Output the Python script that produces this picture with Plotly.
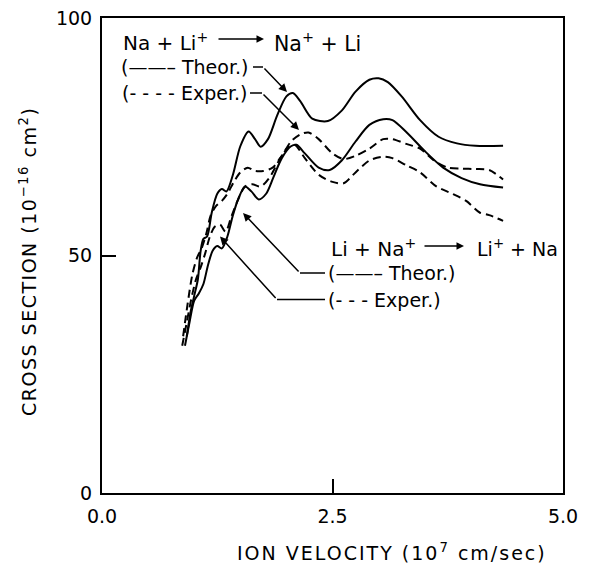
import plotly.graph_objects as go

# Na + Li+ -> Na+ + Li, theory (solid)
v_na_theor = [0.92, 0.96, 1.0, 1.04, 1.07, 1.10, 1.14, 1.19, 1.25, 1.30, 1.35, 1.42, 1.50, 1.59, 1.66, 1.72, 1.80, 1.90, 2.0, 2.07, 2.15, 2.28, 2.45, 2.6, 2.75, 2.9, 3.0, 3.1, 3.25, 3.45, 3.65, 3.85, 4.05, 4.35]
c_na_theor = [33, 38, 41.5, 45, 51, 53.5, 54, 59, 63, 64, 63.5, 67, 73, 76.1, 74.5, 72.9, 74.5, 79.5, 83.5, 84.2, 82.5, 78.8, 78.3, 80.5, 84.5, 87, 87.3, 86.5, 83.5, 78.5, 75, 73.6, 73.1, 73.1]

# Na + Li+ -> Na+ + Li, experiment (dashed)
v_na_exper = [0.88, 0.93, 0.98, 1.03, 1.08, 1.13, 1.18, 1.24, 1.30, 1.36, 1.43, 1.50, 1.58, 1.66, 1.75, 1.85, 1.95, 2.05, 2.15, 2.24, 2.35, 2.5, 2.62, 2.75, 2.9, 3.05, 3.15, 3.3, 3.45, 3.6, 3.75, 3.9, 4.05, 4.2, 4.35]
c_na_exper = [33, 40, 46, 49.5, 51.5, 54.5, 58.5, 60.5, 61.5, 63, 65.5, 67.5, 68.5, 67.8, 67.8, 68.5, 71, 74, 75.5, 75.9, 74.5, 71.5, 70.3, 71, 72.5, 74.5, 74.5, 73.5, 72.5, 70, 68.5, 68.3, 68.2, 68, 66]

# Li + Na+ -> Li+ + Na, theory (solid)
v_li_theor = [0.9, 0.95, 1.0, 1.05, 1.1, 1.15, 1.2, 1.25, 1.3, 1.36, 1.42, 1.48, 1.55, 1.62, 1.7, 1.78, 1.86, 1.95, 2.05, 2.11, 2.2, 2.35, 2.47, 2.6, 2.75, 2.9, 3.05, 3.15, 3.3, 3.5, 3.7, 3.9, 4.1, 4.35]
c_li_theor = [31, 36, 40.5, 42, 44, 48, 51, 52, 51.5, 54, 58.5, 62, 64.5, 63.5, 61.8, 63, 66.5, 70.5, 73, 73.3, 71.5, 68.5, 68, 70, 74, 77.5, 78.7, 78.5, 76, 72, 68.5, 66.3, 65, 64.3]

# Li + Na+ -> Li+ + Na, experiment (dashed)
v_li_exper = [0.87, 0.92, 0.97, 1.02, 1.07, 1.12, 1.17, 1.22, 1.28, 1.34, 1.40, 1.47, 1.55, 1.63, 1.72, 1.82, 1.92, 2.02, 2.09, 2.2, 2.35, 2.5, 2.62, 2.75, 2.9, 3.05, 3.15, 3.3, 3.45, 3.63, 3.8, 3.95, 4.1, 4.2, 4.35]
c_li_exper = [31, 36, 41, 45, 47.5, 50.5, 54, 56, 56.5, 55, 58, 61.5, 64.5, 65, 64.5, 66.5, 70, 72.8, 73.3, 70.5, 67, 65.5, 65.2, 67.5, 70, 70.8, 70.5, 69, 67.5, 64.5, 63, 61.5, 59, 58.5, 57.3]

x_ticks = [0.0, 2.5, 5.0]
x_tick_labels = ["0.0", "2.5", "5.0"]
y_ticks = [0, 50, 100]
y_tick_labels = ["0", "50", "100"]

FONT = "DejaVu Sans"
FS = 19
DASH = "8px,5px"

# page-pixel frame (the page body adds an 8px offset, compensated below)
PL, PR, PT, PB = 102, 563, 18, 493
OFF = 8
X0, X1, Y0, Y1 = 0.0, 5.0, 0.0, 100.0

def dx(px):
    return X0 + (px - PL) / (PR - PL) * (X1 - X0)

def dy(py):
    return Y0 + (PB - py) / (PB - PT) * (Y1 - Y0)

fig = go.Figure()
series = [
    (v_na_theor, c_na_theor, "solid"),
    (v_na_exper, c_na_exper, DASH),
    (v_li_theor, c_li_theor, "solid"),
    (v_li_exper, c_li_exper, DASH),
]
for xs, ys, dash in series:
    fig.add_trace(go.Scatter(x=xs, y=ys, mode="lines",
                             line=dict(color="black", width=2, dash=dash, shape="spline", smoothing=0.8),
                             showlegend=False, hoverinfo="skip"))

ann = []
def txt(px, py, t, size=FS):
    ann.append(dict(x=dx(px), y=dy(py), xref="x", yref="y", text=t, showarrow=False,
                    xanchor="left", yanchor="middle", font=dict(family=FONT, size=size, color="black")))

def arrow(hx, hy, tx, ty, head=2, size=1.1):
    ann.append(dict(x=dx(hx), y=dy(hy), ax=dx(tx), ay=dy(ty), xref="x", yref="y", axref="x", ayref="y",
                    text="", showarrow=True, arrowhead=head, arrowsize=size, arrowwidth=1.5,
                    arrowcolor="black", standoff=0))

shapes = []
def hline(x0, x1, py):
    shapes.append(dict(type="line", xref="x", yref="y", x0=dx(x0), x1=dx(x1), y0=dy(py), y1=dy(py),
                       line=dict(color="black", width=1.5)))

# upper reaction label
txt(121, 42, "Na + Li<sup>+</sup>", 20)
arrow(264, 39, 217, 39, head=2, size=1.0)
txt(272, 42, "Na<sup>+</sup> + Li", 20.5)
txt(119, 67, "(——– Theor.)")
txt(120, 93, "(- - - - Exper.)")
hline(253, 263, 67)
arrow(287, 92, 263, 67)
hline(250, 262, 93)
arrow(299, 130, 262, 93)

# lower reaction label
txt(329, 248, "Li + Na<sup>+</sup>", 20)
arrow(464, 246, 423, 246, head=2, size=1.0)
txt(475, 248, "Li<sup>+</sup> + Na")
txt(326, 273, "(——– Theor.)")
txt(326, 300, "(- - - Exper.)")
hline(300, 325, 273)
arrow(243, 213, 300, 273)
hline(277, 325, 299.5)
arrow(220, 236.5, 277, 299.5)

ann.append(dict(x=(392 - PL) / (PR - PL), y=(PB - 552) / (PB - PT), xref="paper", yref="paper", showarrow=False,
                text="<span style='letter-spacing:2px'>ION VELOCITY (10<sup>7</sup> cm/sec)</span>",
                xanchor="center", yanchor="middle",
                font=dict(family=FONT, size=FS, color="black")))
ann.append(dict(x=(28 - PL) / (PR - PL), y=(PB - 262) / (PB - PT), xref="paper", yref="paper", showarrow=False,
                textangle=-90,
                text="<span style='letter-spacing:1.5px'>CROSS SECTION (10<sup>−16</sup> cm<sup>2</sup>)</span>",
                xanchor="center", yanchor="middle",
                font=dict(family=FONT, size=FS, color="black")))

W, H = 595 - OFF, 563 - OFF
fig.update_layout(
    width=W, height=H,
    margin=dict(l=PL - OFF, r=W - (PR - OFF), t=PT - OFF, b=H - (PB - OFF), autoexpand=False),
    paper_bgcolor="white", plot_bgcolor="white",
    annotations=ann, shapes=shapes,
    font=dict(family=FONT, size=FS, color="black"),
)
fig.update_xaxes(range=[X0, X1], tickvals=x_ticks, ticktext=x_tick_labels, ticks="inside", ticklen=14,
                 tickwidth=1.5, tickcolor="black", showgrid=False, zeroline=False,
                 showline=True, linecolor="black", linewidth=2, mirror=True, automargin=False,
                 ticklabeloverflow="allow",
                 tickfont=dict(family=FONT, size=FS), ticklabelstandoff=5)
fig.update_yaxes(range=[Y0, Y1], tickvals=y_ticks, ticktext=y_tick_labels, ticks="inside", ticklen=14,
                 tickwidth=1.5, tickcolor="black", showgrid=False, zeroline=False,
                 showline=True, linecolor="black", linewidth=2, mirror=True, automargin=False,
                 ticklabeloverflow="allow",
                 tickfont=dict(family=FONT, size=FS), ticklabelstandoff=4)

fig.write_html("out.html")
